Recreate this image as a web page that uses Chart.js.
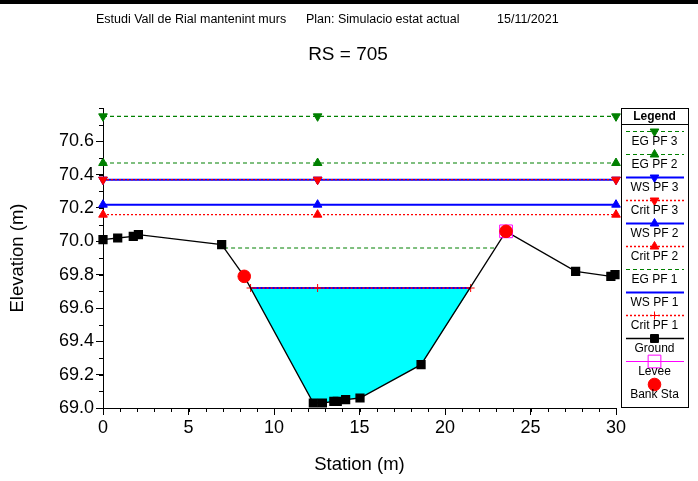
<!DOCTYPE html>
<html>
<head>
<meta charset="utf-8">
<title>RS = 705</title>
<script src="https://cdn.jsdelivr.net/npm/chart.js@4.4.0/dist/chart.umd.min.js"></script>
<style>
  html, body { margin: 0; padding: 0; background: #fff; }
  canvas { display: block; }
</style>
</head>
<body>
<canvas id="seccio" width="698" height="481"></canvas>
<script>
// Ground points of the cross section (station m, elevation m)
const groundSta = [0, 0.86, 1.77, 2.07, 6.94, 8.26, 12.3, 12.83, 13.5, 13.7, 14.19, 15.03, 18.6, 23.57, 27.64, 29.7, 29.94];
const groundElev = [70.01, 70.02, 70.03, 70.04, 69.98, 69.79, 69.03, 69.03, 69.04, 69.04, 69.05, 69.06, 69.26, 70.06, 69.82, 69.79, 69.80];

// bank stations and levee
const bankSta = [8.26, 23.57];
const bankElev = [69.79, 70.06];
const leveeSta = [23.57];
const leveeElev = [70.06];

// profiles PF 1, PF 2, PF 3
const wsElev = [69.72, 70.22, 70.37];
const critElev = [69.72, 70.16, 70.37];
const egElev = [69.96, 70.47, 70.75];

// where each level is drawn across the section
const fullSta = [0, 12.55, 30];
const pf1Sta = [8.63, 12.55, 21.5];
const egPf1Sta = [7.08, 23.0];

const xTicks = { min: 0, max: 30, step: 5, minor: 1 };
const yTicks = { min: 69.0, max: 70.8, step: 0.2, minor: 0.1, lastLabel: 70.6 };

const FONT = "'Liberation Sans', Arial, sans-serif";
const GREEN = '#008000';
const BLUE = '#0000ff';
const RED = '#ff0000';

function pts(stations, elev) {
    return stations.map((s, i) => ({ x: s, y: Array.isArray(elev) ? elev[i] : elev }));
}

// wetted part of the section for PF 1
const waterPts = [{ x: pf1Sta[0], y: wsElev[0] }]
    .concat(pts(groundSta, groundElev).filter(p => p.x > pf1Sta[0] && p.x < pf1Sta[2]))
    .concat([{ x: pf1Sta[2], y: wsElev[0] }]);

function levelLine(label, stations, elev, color, dash, width, marker, order) {
    return {
        label: label,
        data: pts(stations, elev),
        borderColor: color,
        borderWidth: width,
        borderDash: dash,
        pointStyle: marker ? marker.style : false,
        pointRotation: marker ? marker.rotation : 0,
        pointRadius: marker ? marker.radius : 0,
        pointBackgroundColor: color,
        pointBorderColor: color,
        pointBorderWidth: 1,
        fill: false,
        clip: false,
        order: order
    };
}

const down = { style: 'triangle', rotation: 180, radius: 5 };
const up = { style: 'triangle', rotation: 0, radius: 5 };

const datasets = [
    {
        label: 'Bank Sta',
        data: pts(bankSta, bankElev),
        showLine: false,
        pointStyle: 'circle',
        pointRadius: 6.3,
        pointBackgroundColor: RED,
        pointBorderColor: RED,
        clip: false,
        order: 1
    },
    {
        label: 'Levee',
        data: pts(leveeSta, leveeElev),
        showLine: false,
        pointStyle: 'rect',
        pointRadius: 9,
        pointBackgroundColor: 'rgba(0,0,0,0)',
        pointBorderColor: '#ff00ff',
        pointBorderWidth: 1,
        clip: false,
        order: 2
    },
    {
        label: 'Ground',
        data: pts(groundSta, groundElev),
        borderColor: '#000',
        borderWidth: 1.3,
        pointStyle: 'rect',
        pointRadius: 5.6,
        pointBackgroundColor: '#000',
        pointBorderColor: '#000',
        fill: false,
        clip: false,
        order: 3
    },
    levelLine('Crit PF 1', pf1Sta, critElev[0], RED, [2, 2], 1.3, { style: 'cross', rotation: 0, radius: 4 }, 4),
    levelLine('WS PF 1', pf1Sta, wsElev[0], BLUE, [], 2, null, 5),
    levelLine('EG PF 1', egPf1Sta, egElev[0], GREEN, [4, 3], 1.2, null, 6),
    levelLine('Crit PF 2', fullSta, critElev[1], RED, [2, 2], 1.3, up, 7),
    levelLine('WS PF 2', fullSta, wsElev[1], BLUE, [], 2, up, 8),
    levelLine('Crit PF 3', fullSta, critElev[2], RED, [2, 2], 1.3, down, 9),
    levelLine('WS PF 3', fullSta, wsElev[2], BLUE, [], 2, down, 10),
    levelLine('EG PF 2', fullSta, egElev[1], GREEN, [4, 3], 1.2, up, 11),
    levelLine('EG PF 3', fullSta, egElev[2], GREEN, [4, 3], 1.2, down, 12),
    {
        label: 'water',
        data: waterPts,
        borderWidth: 0,
        borderColor: 'rgba(0,0,0,0)',
        backgroundColor: '#00ffff',
        pointRadius: 0,
        fill: { value: wsElev[0] },
        order: 20
    }
];

// legend entries, top to bottom
const legendRows = [
    { text: 'EG PF 3', color: GREEN, dash: [4, 3], width: 1.2, marker: down },
    { text: 'EG PF 2', color: GREEN, dash: [4, 3], width: 1.2, marker: up },
    { text: 'WS PF 3', color: BLUE, dash: [], width: 2, marker: down },
    { text: 'Crit PF 3', color: RED, dash: [2, 2], width: 1.3, marker: down },
    { text: 'WS PF 2', color: BLUE, dash: [], width: 2, marker: up },
    { text: 'Crit PF 2', color: RED, dash: [2, 2], width: 1.3, marker: up },
    { text: 'EG PF 1', color: GREEN, dash: [4, 3], width: 1.2, marker: null },
    { text: 'WS PF 1', color: BLUE, dash: [], width: 2, marker: null },
    { text: 'Crit PF 1', color: RED, dash: [2, 2], width: 1.3, marker: { style: 'cross', rotation: 0, radius: 4 } },
    { text: 'Ground', color: '#000', dash: [], width: 1.3, marker: { style: 'rect', rotation: 0, radius: 5.6 } },
    { text: 'Levee', color: '#ff00ff', dash: [], width: 1, marker: { style: 'rect', rotation: 0, radius: 9, open: true } },
    { text: 'Bank Sta', color: RED, dash: null, width: 0, marker: { style: 'circle', rotation: 0, radius: 6.3 } }
];

const decorPlugin = {
    id: 'decor',
    afterDraw(chart) {
        const ctx = chart.ctx;
        const xs = chart.scales.x;
        const ys = chart.scales.y;
        ctx.save();

        // frame bar and headings
        ctx.fillStyle = '#000';
        ctx.fillRect(0, 0, 698, 4);
        ctx.font = '12.5px ' + FONT;
        ctx.textBaseline = 'middle';
        ctx.textAlign = 'left';
        ctx.fillText('Estudi Vall de Rial mantenint murs', 96, 20);
        ctx.fillText('Plan: Simulacio estat actual', 306, 20);
        ctx.fillText('15/11/2021', 497, 20);
        ctx.font = '19px ' + FONT;
        ctx.textAlign = 'center';
        ctx.fillText('RS = 705', 348, 55);

        // minor ticks
        ctx.strokeStyle = '#000';
        ctx.lineWidth = 1;
        ctx.beginPath();
        for (let v = xTicks.min; v <= xTicks.max + 1e-9; v += xTicks.minor) {
            const px = Math.round(xs.getPixelForValue(v)) + 0.5;
            ctx.moveTo(px, xs.top);
            ctx.lineTo(px, xs.top + 4);
        }
        for (let i = 0; yTicks.min + i * yTicks.minor <= yTicks.max + 1e-9; i++) {
            const py = Math.round(ys.getPixelForValue(yTicks.min + i * yTicks.minor)) + 0.5;
            ctx.moveTo(ys.right, py);
            ctx.lineTo(ys.right - 4, py);
        }
        ctx.stroke();

        // legend box
        const bx = 621, by = 108, bw = 67, bh = 299;
        const cx = bx + bw / 2;
        ctx.strokeRect(bx + 0.5, by + 0.5, bw, bh);
        ctx.beginPath();
        ctx.moveTo(bx, by + 16.5);
        ctx.lineTo(bx + bw, by + 16.5);
        ctx.stroke();
        ctx.font = 'bold 12px ' + FONT;
        ctx.fillText('Legend', cx, by + 8.5);

        legendRows.forEach((row, i) => {
            const ly = 131.5 + i * 23;
            if (row.dash) {
                ctx.save();
                ctx.strokeStyle = row.color;
                ctx.lineWidth = row.width;
                ctx.setLineDash(row.dash);
                ctx.beginPath();
                ctx.moveTo(bx + 5, ly);
                ctx.lineTo(bx + bw - 4, ly);
                ctx.stroke();
                ctx.restore();
            }
            if (row.marker) {
                ctx.save();
                ctx.fillStyle = row.marker.open ? 'rgba(0,0,0,0)' : row.color;
                ctx.strokeStyle = row.color;
                ctx.lineWidth = 1;
                Chart.helpers.drawPoint(ctx, {
                    pointStyle: row.marker.style,
                    radius: row.marker.radius,
                    rotation: row.marker.rotation,
                    borderWidth: 1
                }, cx, ly);
                ctx.restore();
            }
            ctx.fillStyle = '#000';
            ctx.font = '12px ' + FONT;
            ctx.fillText(row.text, cx, ly + 10.5);
        });

        ctx.restore();
    }
};

new Chart(document.getElementById('seccio'), {
    type: 'line',
    data: { datasets: datasets },
    options: {
        responsive: false,
        devicePixelRatio: 1,
        animation: false,
        layout: { padding: { top: 108, right: 82, left: 0, bottom: 0 } },
        plugins: {
            legend: { display: false },
            tooltip: { enabled: false }
        },
        elements: { line: { tension: 0 } },
        scales: {
            x: {
                type: 'linear',
                min: xTicks.min,
                max: xTicks.max,
                ticks: {
                    stepSize: xTicks.step,
                    color: '#000',
                    font: { family: FONT, size: 18 },
                    padding: 2,
                    maxRotation: 0
                },
                grid: { drawOnChartArea: false, tickLength: 7, tickColor: '#000' },
                border: { color: '#000', width: 1 },
                title: {
                    display: true,
                    text: 'Station (m)',
                    color: '#000',
                    font: { family: FONT, size: 18.5 },
                    padding: { top: 0, bottom: 5 }
                },
                afterFit(scale) { scale.height = 73; }
            },
            y: {
                type: 'linear',
                min: yTicks.min,
                max: yTicks.max,
                ticks: {
                    stepSize: yTicks.step,
                    color: '#000',
                    font: { family: FONT, size: 18 },
                    padding: 2,
                    callback: v => v.toFixed(1)
                },
                afterBuildTicks(scale) {
                    scale.ticks = scale.ticks.filter(t => t.value <= yTicks.lastLabel + 1e-6);
                },
                grid: { drawOnChartArea: false, tickLength: 7, tickColor: '#000' },
                border: { color: '#000', width: 1 },
                title: {
                    display: true,
                    text: 'Elevation (m)',
                    color: '#000',
                    font: { family: FONT, size: 18.5 },
                    padding: { top: 7, bottom: 0 }
                },
                afterFit(scale) { scale.width = 103; }
            }
        }
    },
    plugins: [decorPlugin]
});
</script>
</body>
</html>
